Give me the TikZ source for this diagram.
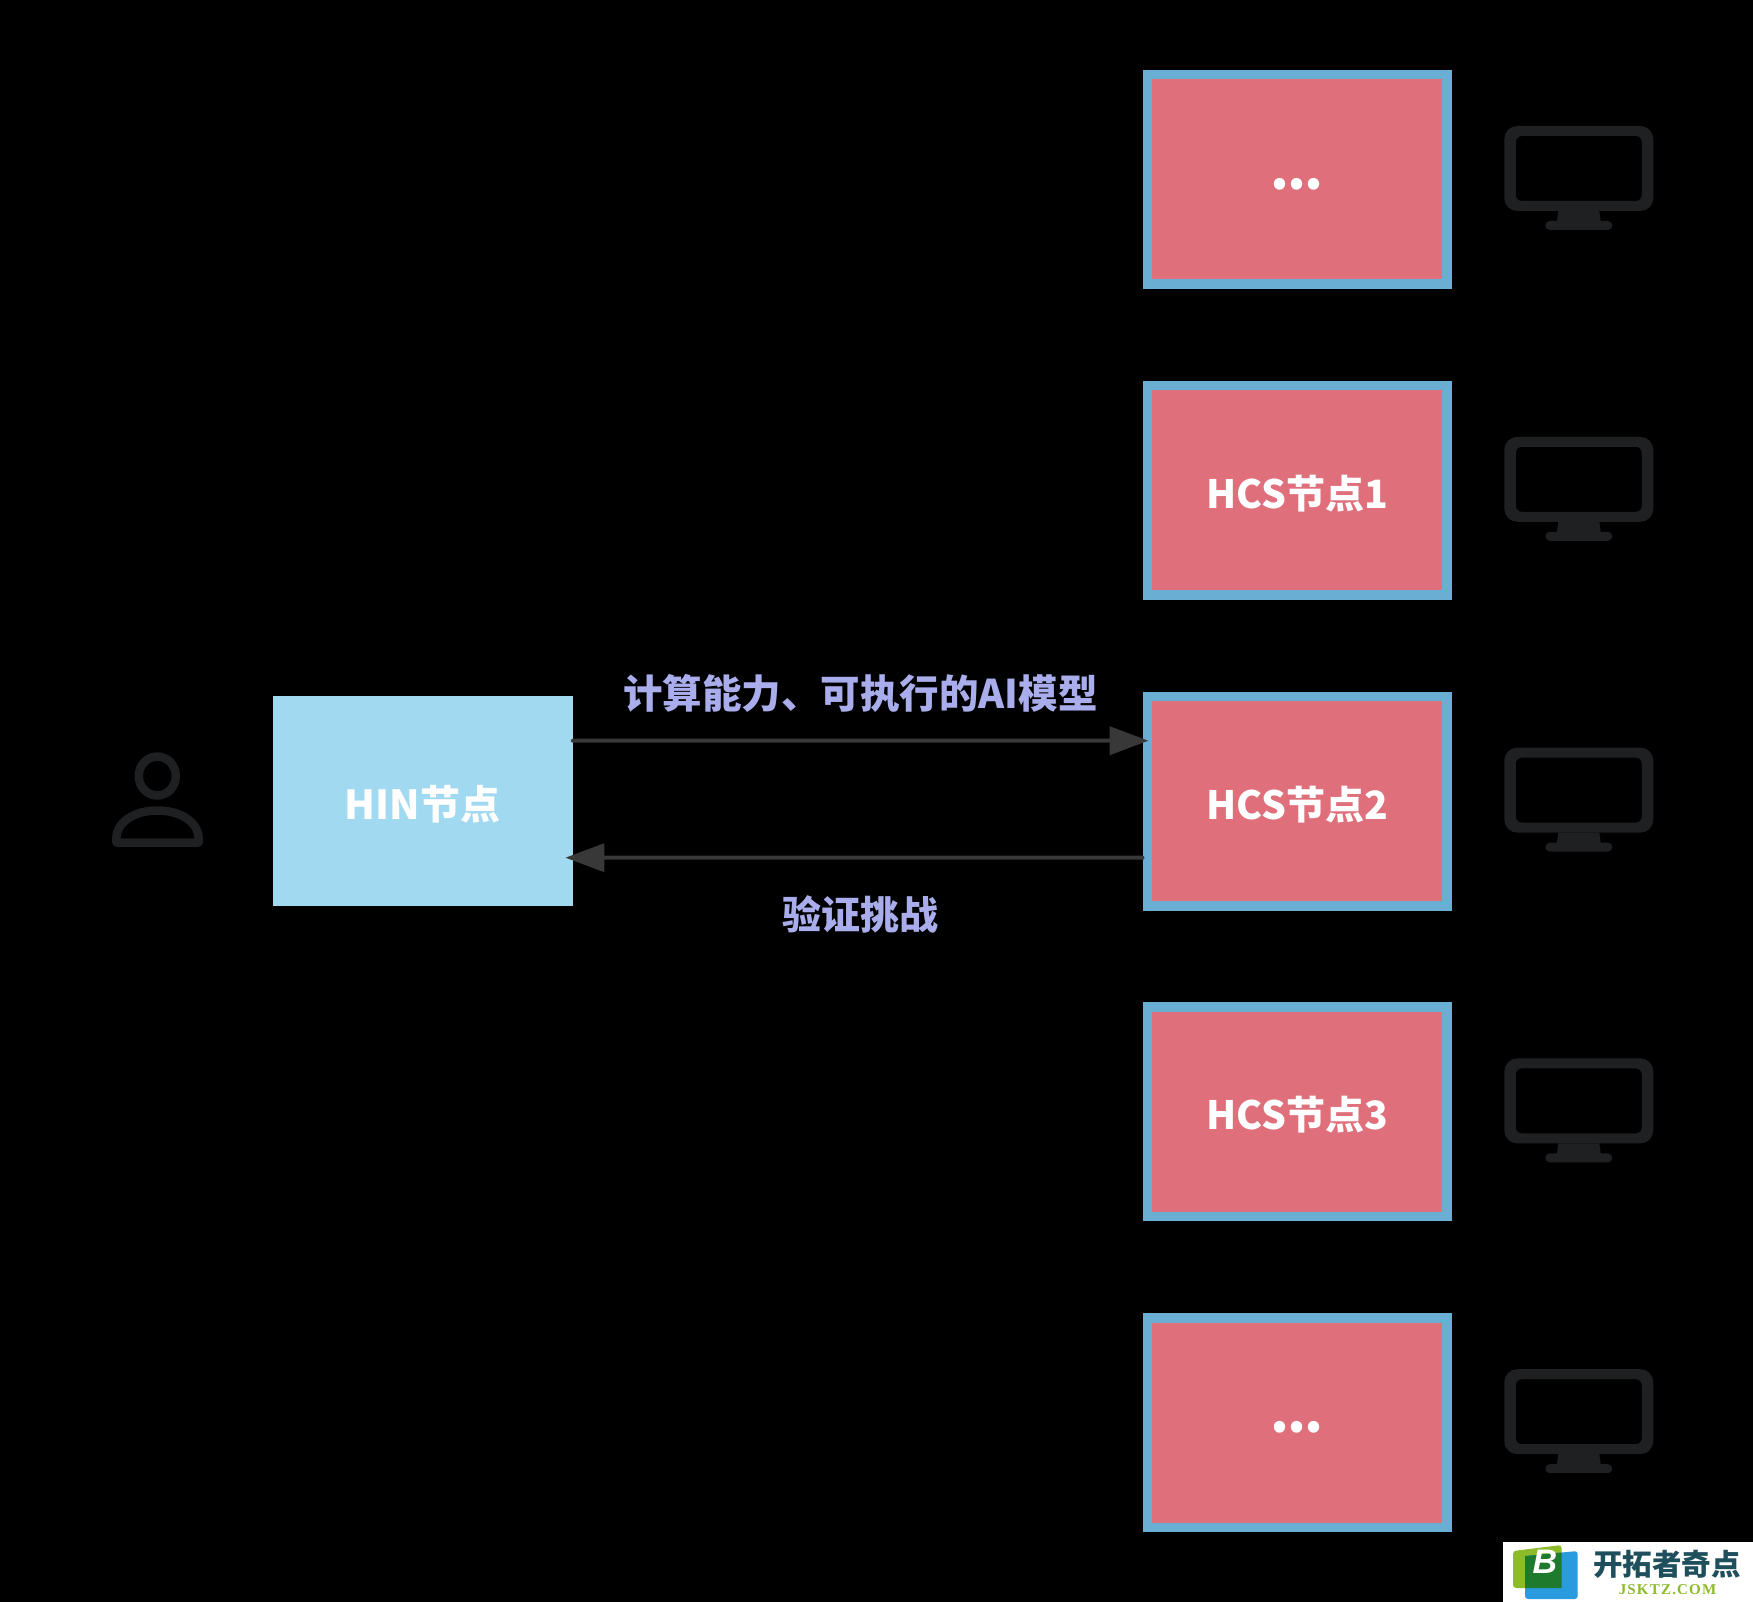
\documentclass[tikz,border=0pt]{standalone}
\usepackage{fontspec}
\newfontfamily\cjk{Noto Sans CJK SC}
\newfontfamily\wmsans{Liberation Sans}
\newfontfamily\wmserif{Liberation Serif}
\usetikzlibrary{arrows.meta}
\definecolor{pinkfill}{HTML}{DF707B}
\definecolor{blueedge}{HTML}{6BAED4}
\definecolor{hinfill}{HTML}{A1D9F0}
\definecolor{lilac}{HTML}{A9ADEB}
\definecolor{icon}{HTML}{1F2022}
\definecolor{arrowgrey}{HTML}{383838}
\definecolor{wmteal}{HTML}{1F4F5C}
\definecolor{wmgreen}{HTML}{8DBB2A}
\definecolor{wmdark}{HTML}{1E7A2C}
\definecolor{wmblue}{HTML}{2B9BE0}
\newcommand{\threedots}{\raisebox{-10pt}[0pt][0pt]{\fontsize{54}{54}\selectfont.\kern-1.8pt.\kern-1.8pt.}}
\newcommand{\boxtext}[1]{\raisebox{-18pt}[0pt][0pt]{#1}}
\tikzset{
  hcsbox/.style={draw=blueedge,fill=pinkfill,line width=9.5pt,minimum width=299.5pt,minimum height=209.5pt,inner sep=0pt,text=white,font=\cjk\bfseries\fontsize{39}{39}\selectfont},
  hinbox/.style={fill=hinfill,minimum width=300pt,minimum height=210pt,inner sep=0pt,text=white,font=\cjk\bfseries\fontsize{40}{40}\selectfont},
  uplabel/.style={text=lilac,inner sep=0pt,font=\cjk\bfseries\fontsize{39.5}{40}\selectfont},
  downlabel/.style={text=lilac,inner sep=0pt,font=\cjk\bfseries\fontsize{39}{40}\selectfont},
  link/.style={draw=arrowgrey,line width=4pt,line cap=round,-{Triangle[length=39pt,width=28pt]}},
  monitor/.pic={
    \fill[icon,even odd rule,rounded corners=13pt] (-74.5,-54) rectangle (74.5,31)
      [rounded corners=6pt] (-63,-44) rectangle (63,21);
    \fill[icon] (-20.5,31) -- (20.5,31) -- (22,42) -- (-22,42) -- cycle;
    \fill[icon,rounded corners=4.5pt] (-33.5,41) rectangle (33.5,50);
  }
}
\begin{document}
\begin{tikzpicture}[x=1pt,y=-1pt]
\useasboundingbox (0,0) rectangle (1753,1602);
\fill[black] (0,0) rectangle (1753,1602);

\node[hcsbox] (top)  at (1297,179.5) {\threedots};
\node[hcsbox] (hcs1) at (1297,490.3) {\boxtext{HCS节点1}};
\node[hcsbox] (hcs2) at (1297,801.1) {\boxtext{HCS节点2}};
\node[hcsbox] (hcs3) at (1297,1111.9) {\boxtext{HCS节点3}};
\node[hcsbox] (bot)  at (1297,1422.7) {\threedots};
\node[hinbox] (hin) at (422.7,801) {\boxtext{HIN节点}};

\draw[link] ([yshift=60.3pt]hin.east) -- ([xshift=6pt,yshift=60.4pt]hcs2.west);
\draw[link] ([yshift=-56.6pt]hcs2.west) -- ([xshift=-7.5pt,yshift=-56.7pt]hin.east);

\node[uplabel] (up) at (860.5,693) {计算能力、可执行的AI模型};
\node[downlabel] (down) at (860,914) {验证挑战};

\pic at (1578.8,180) {monitor};
\pic at (1578.8,490.8) {monitor};
\pic at (1578.8,801.6) {monitor};
\pic at (1578.8,1112.4) {monitor};
\pic at (1578.8,1423.2) {monitor};

% person
\draw[icon,line width=8.5pt] (157.3,776) ellipse [x radius=18.5,y radius=19.5];
\draw[icon,line width=8.5pt,line join=round] (116.5,842.5) .. controls (114,822) and (135,810.5) .. (157.3,810.5)
  .. controls (180,810.5) and (201,822) .. (198.5,842.5) -- cycle;

% watermark
\fill[white] (1503,1542) rectangle (1753,1602);
\fill[wmgreen,rounded corners=3pt] (1513,1551) -- (1561.5,1545) -- (1561.5,1588) -- (1513,1588) -- cycle;
\fill[wmblue,rounded corners=3pt] (1525,1556) -- (1577.7,1551) -- (1577.7,1599) -- (1525,1599) -- cycle;
\fill[wmdark] (1525,1556) -- (1561.5,1552.5) -- (1561.5,1588) -- (1525,1588) -- cycle;
\node[text=white,inner sep=0pt,font=\wmsans\bfseries\itshape\fontsize{34}{34}\selectfont] (wmb) at (1545,1562) {B};
\node[text=wmteal,inner sep=0pt,font=\cjk\bfseries\fontsize{29.5}{30}\selectfont] (wmt) at (1667,1564) {开拓者奇点};
\node[text=wmgreen,inner sep=0pt,font=\wmserif\bfseries\fontsize{15}{15}\selectfont] (wmu) at (1667.5,1589.5) {J\kern1.2pt S\kern1.2pt K\kern1.2pt T\kern1.2pt Z\kern1.2pt .\kern1.2pt C\kern1.2pt O\kern1.2pt M};
\end{tikzpicture}
\end{document}
